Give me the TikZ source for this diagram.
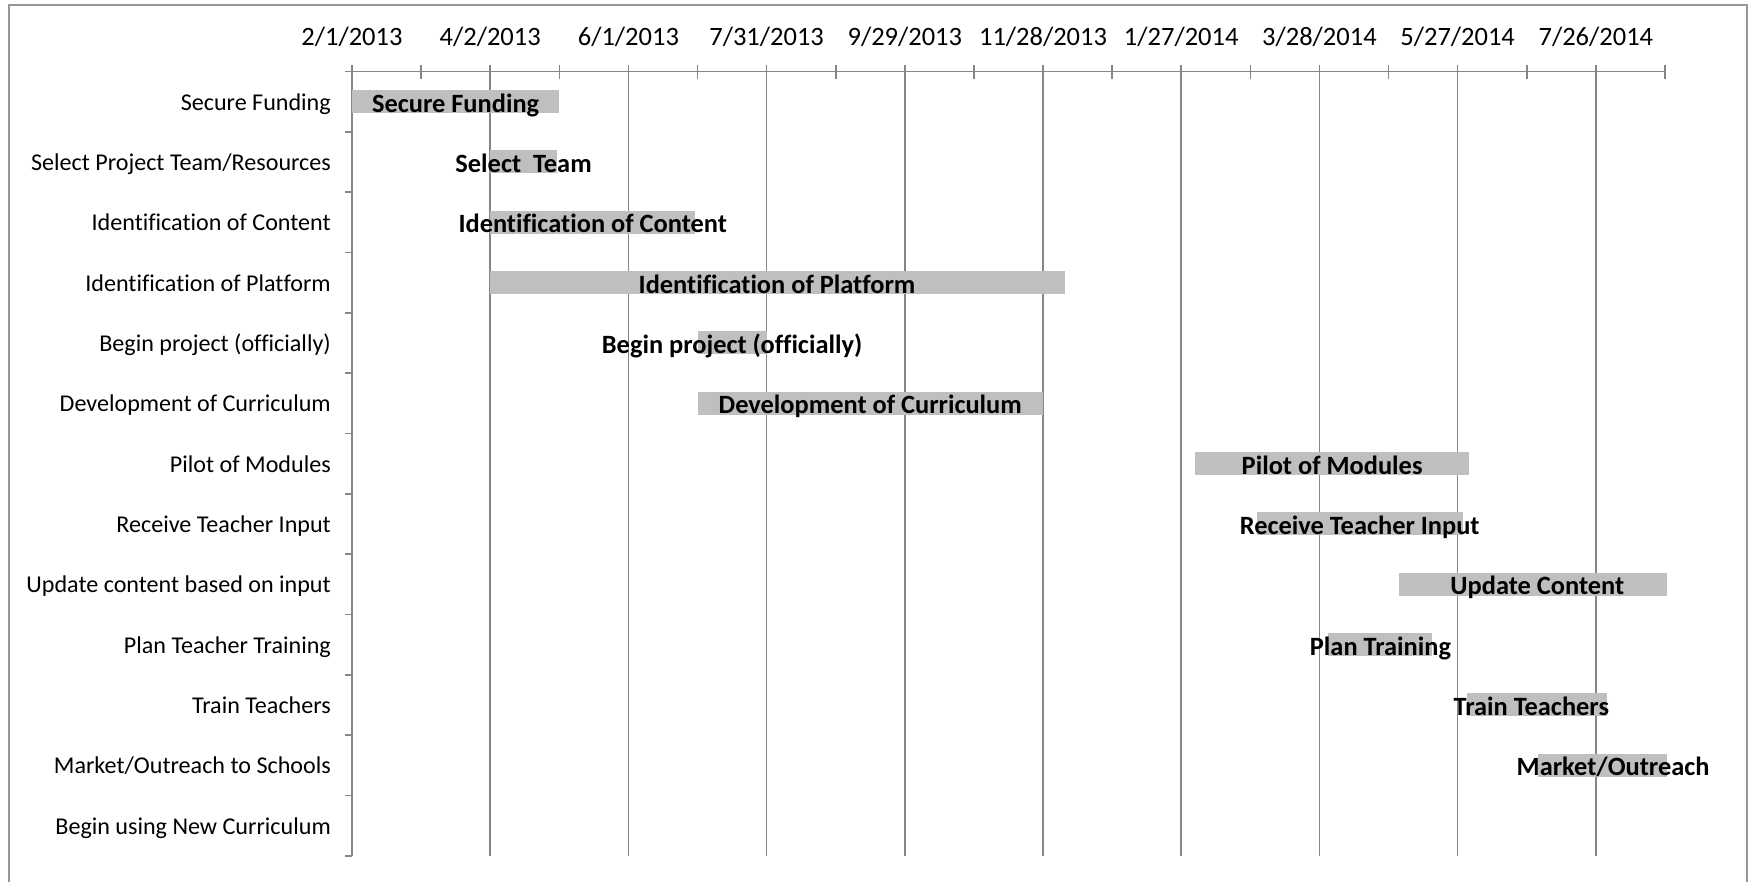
\documentclass[tikz,border=0pt]{standalone}
\usepackage{fontspec}
\setmainfont{Carlito}[Ligatures=NoCommon]
\definecolor{gridc}{RGB}{134,134,134}
\definecolor{barc}{RGB}{191,191,191}
\definecolor{framec}{RGB}{150,150,150}
\begin{document}
\begin{tikzpicture}[x=1pt,y=-1pt,
  gridline/.style={draw=gridc,line width=1.6pt},
  barbox/.style={fill=barc},
  catlabel/.style={anchor=base east,inner sep=0pt,font=\fontsize{24.1}{28}\selectfont},
  datelabel/.style={anchor=base,inner sep=0pt,font=\fontsize{26.5}{30}\selectfont},
  barlabel/.style={anchor=base,inner sep=0pt,font=\fontsize{26.4}{30}\selectfont\bfseries}]
\useasboundingbox (0,0) rectangle (1752,881);
\fill[white] (0,0) rectangle (1752,881);
% frame
\draw[framec,line width=2pt] (9,890) -- (9,5) -- (1747,5) -- (1747,890);
% axes
\coordinate (o) at (352,71.5);
\coordinate (xend) at ({352+2.3034*570},71.5);
\coordinate (ybot) at (352,856);
\draw[gridline] (o) -- (xend);
\draw[gridline] (o) -- (ybot);
% major gridlines and date labels
\foreach \d/\t [count=\k] in {0/{2/1/2013},60/{4/2/2013},120/{6/1/2013},180/{7/31/2013},240/{9/29/2013},300/{11/28/2013},360/{1/27/2014},420/{3/28/2014},480/{5/27/2014},540/{7/26/2014}}{
  \pgfmathsetmacro\xx{352+2.3034*\d}
  \draw[gridline] (\xx,64.5) -- (\xx,856);
  \node[datelabel] (date\k) at (\xx,45) {\t};
}
% minor ticks
\foreach \d in {30,90,...,570}{
  \pgfmathsetmacro\xx{352+2.3034*\d}
  \draw[gridline] (\xx,64.5) -- (\xx,78.5);
}
% category ticks
\foreach \i in {0,...,13}{
  \pgfmathsetmacro\yy{71.5+60.33*\i}
  \draw[gridline] (345,\yy) -- (352,\yy);
}
% category labels
\foreach \t [count=\i] in {Secure Funding,{Select Project Team/Resources},Identification of Content,Identification of Platform,Begin project (officially),Development of Curriculum,Pilot of Modules,Receive Teacher Input,Update content based on input,Plan Teacher Training,Train Teachers,{Market/Outreach to Schools},Begin using New Curriculum}{
  \pgfmathsetmacro\yc{71.5+60.33*(\i-0.5)}
  \node[catlabel] (cat\i) at (331,{\yc+8.5}) {\t};
}
% bars
\foreach \s/\e/\c/\t [count=\i] in {0/90/45/Secure Funding,60/89/74.5/Select\ \ Team,60/149/104.5/Identification of Content,60/309.5/184.5/Identification of Platform,150/180/165/Begin project (officially),150/300/225/Development of Curriculum,366/485/425.5/Pilot of Modules,393/482.5/437.5/Receive Teacher Input,454.5/571/514.6/Update Content,423.5/469/446.5/Plan Training,484/545/512/Train Teachers,515/571/547.5/{Market/Outreach}}{
  \pgfmathsetmacro\xs{352+2.3034*\s}
  \pgfmathsetmacro\xe{352+2.3034*\e}
  \pgfmathsetmacro\xc{352+2.3034*\c}
  \pgfmathsetmacro\yc{71.5+60.33*(\i-0.5)}
  \fill[barc] (\xs,{\yc-11.5}) rectangle (\xe,{\yc+11.5});
  \node[barlabel] (bar\i) at (\xc,{\yc+10.5}) {\t};
}
\end{tikzpicture}
\end{document}
